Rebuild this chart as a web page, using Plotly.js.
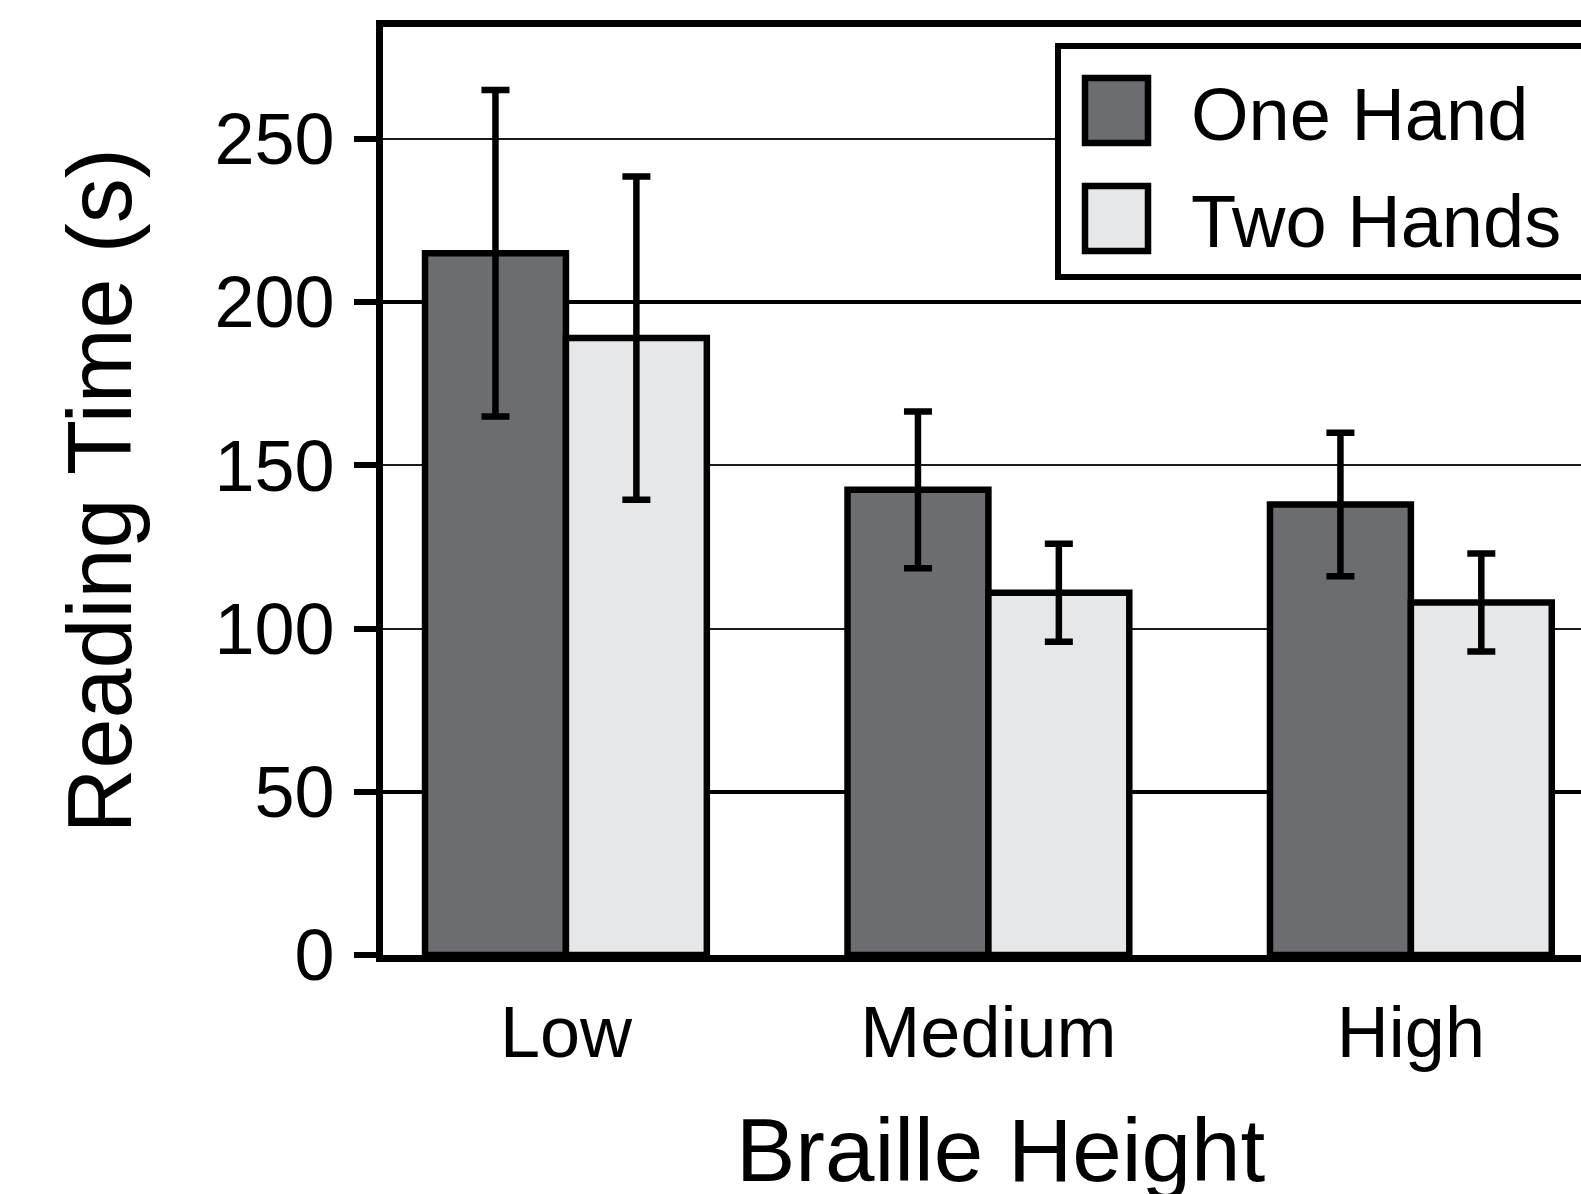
<!DOCTYPE html>
<html>
<head>
<meta charset="utf-8">
<script src="https://cdn.plot.ly/plotly-3.0.1.min.js"></script>
<style>
html, body { margin: 0; padding: 0; overflow: hidden; background: #fff; }
#chart { width: 1660px; height: 1194px; }
</style>
</head>
<body>
<div id="chart"></div>
<script>
// ---- data ----
const categories = ["Low", "Medium", "High"];
const seriesNames = ["One Hand", "Two Hands"];
const oneHand = [215, 142.5, 138];
const oneHandErr = [50, 24, 22];
const twoHands = [189, 111, 108];
const twoHandsErr = [49.5, 15, 15];
const yTickVals = [0, 50, 100, 150, 200, 250];
const yHeavyGrid = [50, 200];
const xTitle = "Braille Height";
const yTitle = "Reading Time (s)";

// ---- layout geometry (pixels) ----
const W = 1660, H = 1194;
const M = { l: 383, r: 40, t: 27, b: 239 };
const plotW = W - M.l - M.r, plotH = H - M.t - M.b;
const px = x => (x - M.l) / plotW;
const py = y => (H - M.b - y) / plotH;
const Y_RANGE = [0, 284.3];

const FONT = '"Liberation Sans", Arial, Helvetica, sans-serif';
const DARK = '#6c6d71', LIGHT = '#e6e7e9';

const errStyle = { type: 'data', visible: true, color: '#000', thickness: 6.5, width: 14 };

const traces = [
  { type: 'scatter', x: [categories[0]], y: [null], yaxis: 'y2',
    mode: 'markers', showlegend: false, hoverinfo: 'skip' },
  {
    type: 'bar', name: seriesNames[0], x: categories, y: oneHand,
    marker: { color: DARK, line: { color: '#000', width: 6.5 } },
    error_y: Object.assign({ array: oneHandErr }, errStyle),
    showlegend: false, hoverinfo: 'skip'
  },
  {
    type: 'bar', name: seriesNames[1], x: categories, y: twoHands,
    marker: { color: LIGHT, line: { color: '#000', width: 6.5 } },
    error_y: Object.assign({ array: twoHandsErr }, errStyle),
    showlegend: false, hoverinfo: 'skip'
  }
];

// manual legend (big square swatches)
const shapes = [
  { type: 'rect', xref: 'paper', yref: 'paper', layer: 'above',
    x0: px(1058), x1: px(1800), y0: py(277), y1: py(46),
    fillcolor: '#fff', line: { color: '#000', width: 6 } },
  { type: 'rect', xref: 'paper', yref: 'paper', layer: 'above',
    x0: px(1085), x1: px(1148), y0: py(143), y1: py(78),
    fillcolor: DARK, line: { color: '#000', width: 6.5 } },
  { type: 'rect', xref: 'paper', yref: 'paper', layer: 'above',
    x0: px(1085), x1: px(1148), y0: py(251), y1: py(186),
    fillcolor: LIGHT, line: { color: '#000', width: 6.5 } }
];
const annotations = [
  { xref: 'paper', yref: 'paper', x: px(1189), y: py(114), xanchor: 'left', yanchor: 'middle',
    text: seriesNames[0], showarrow: false, font: { family: FONT, size: 74, color: '#000' } },
  { xref: 'paper', yref: 'paper', x: px(1189), y: py(221), xanchor: 'left', yanchor: 'middle',
    text: seriesNames[1], showarrow: false, font: { family: FONT, size: 74, color: '#000' } },
  { xref: 'paper', yref: 'paper', x: px(1001), y: py(1150), xanchor: 'center', yanchor: 'middle',
    text: xTitle, showarrow: false, font: { family: FONT, size: 89, color: '#000' } }
];

const layout = {
  width: W, height: H, autosize: false,
  margin: M,
  paper_bgcolor: '#fff', plot_bgcolor: '#fff',
  font: { family: FONT, color: '#000' },
  barmode: 'group', bargap: 0.333, bargroupgap: 0,
  showlegend: false,
  xaxis: {
    type: 'category', categoryorder: 'array', categoryarray: categories,
    range: [-0.433, 2.495],
    showline: true, linewidth: 7, linecolor: '#000', mirror: true,
    ticks: '', showgrid: false, zeroline: false,
    tickfont: { family: FONT, size: 72, color: '#000' },
    ticklabelstandoff: 9,
    automargin: false
  },
  yaxis: {
    range: Y_RANGE,
    tickmode: 'array', tickvals: yTickVals, ticktext: yTickVals.map(String),
    ticks: 'outside', ticklen: 22, tickwidth: 6, tickcolor: '#000',
    showline: true, linewidth: 7, linecolor: '#000', mirror: true,
    showgrid: true, gridcolor: '#1a1a1a', gridwidth: 2,
    zeroline: false,
    tickfont: { family: FONT, size: 72, color: '#000' },
    ticklabelstandoff: 5,
    automargin: false,
    layer: 'above traces',
    title: { text: yTitle, font: { family: FONT, size: 90, color: '#000' }, standoff: 55 }
  },
  yaxis2: {
    overlaying: 'y', range: Y_RANGE, side: 'left',
    tickmode: 'array', tickvals: yHeavyGrid, showticklabels: false, ticks: '',
    showgrid: true, gridcolor: '#000', gridwidth: 3.5,
    showline: false, zeroline: false, automargin: false
  },
  shapes: shapes,
  annotations: annotations
};

Plotly.newPlot('chart', traces, layout, { staticPlot: true, displayModeBar: false });
</script>
</body>
</html>
